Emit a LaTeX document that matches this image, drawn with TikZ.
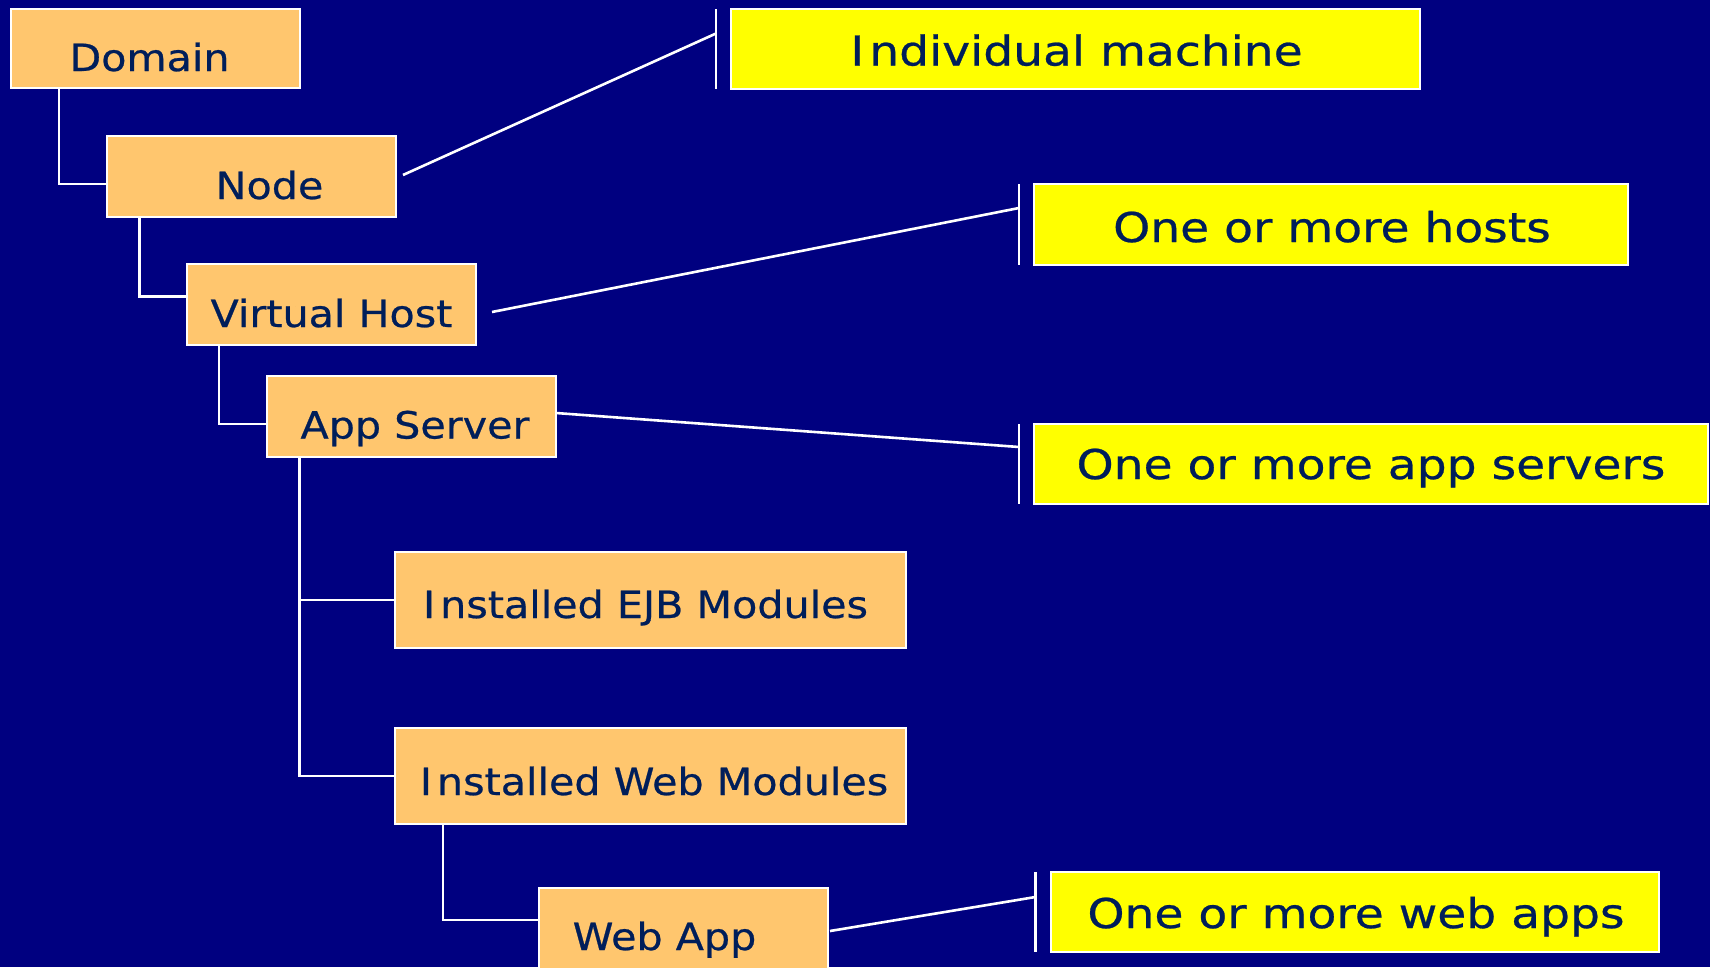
\documentclass[tikz,border=0pt]{standalone}
\usepackage{fontspec}
\newfontfamily\treefont[FakeStretch=1.1,FakeBold=0.6]{DejaVu Sans}
\newfontfamily\notefont[FakeStretch=1.15,FakeBold=0.6]{DejaVu Sans}
\definecolor{slidebg}{RGB}{0,0,128}
\definecolor{tanfill}{RGB}{255,198,110}
\definecolor{notefill}{RGB}{255,255,0}
\definecolor{inkblue}{RGB}{0,30,90}
% label placed at a horizontal offset (#1 = twice the shift) and a vertical drop (#2)
\newcommand\boxlabel[3]{\makebox[0pt]{\hspace*{#1}\raisebox{#2}{#3}}}

\begin{document}
\begin{tikzpicture}[x=1pt,y=-1pt,
  level/.style={draw=white, line width=2pt, fill=tanfill, text=inkblue,
    font=\treefont\fontsize{37.5}{40}\selectfont, anchor=north west,
    inner sep=0pt, outer sep=0pt, text height=0pt, text depth=0pt,
    minimum width=289pt, minimum height=80pt},
  note/.style={draw=white, line width=2pt, fill=notefill, text=inkblue,
    font=\notefont\fontsize{41}{44}\selectfont, anchor=north west,
    inner sep=0pt, outer sep=0pt, text height=0pt, text depth=0pt,
    minimum height=80pt},
  branch/.style={draw=white, line width=2.2pt},
  pointer/.style={draw=white, line width=2.6pt},
  bracket/.style={draw=white, line width=2.2pt}]

\fill[slidebg] (0,0) rectangle (1710,967);
\useasboundingbox (0,0) rectangle (1710,967);

% hierarchy boxes
\node[level, minimum height=79pt] (domain) at (11,9) {\boxlabel{-12pt}{-22.5pt}{Domain}};
\node[level, minimum height=81pt] (nodebox) at (107,136) {\boxlabel{36pt}{-22.5pt}{Node}};
\node[level, minimum height=81pt] (vhost) at (187,264) {\boxlabel{0pt}{-22.5pt}{Virtual Host}};
\node[level, minimum height=81pt] (appsrv) at (267,376) {\boxlabel{7pt}{-22pt}{App Server}};
\node[level, minimum width=511pt, minimum height=96pt] (ejb) at (395,552) {\boxlabel{-10pt}{-18pt}{I\kern5pt{}nstalled EJB Modules}};
\node[level, minimum width=511pt, minimum height=96pt] (webmods) at (395,728) {\boxlabel{7pt}{-19pt}{I\kern5pt{}nstalled Web Modules}};
\node[level, minimum height=81pt] (webapp) at (539,888) {\boxlabel{-38pt}{-21.5pt}{Web App}};

% notes
\node[note, minimum width=689pt] (machine) at (731,9) {\boxlabel{2pt}{-16.5pt}{I\kern5pt{}ndividual machine}};
\node[note, minimum width=594pt, minimum height=81pt] (hosts) at (1034,184) {\boxlabel{2pt}{-17.5pt}{One or more hosts}};
\node[note, minimum width=674pt] (servers) at (1034,424) {\boxlabel{0pt}{-15pt}{One or more app servers}};
\node[note, minimum width=608pt] (apps) at (1051,872) {\boxlabel{2pt}{-16pt}{One or more web apps}};

% brackets beside the notes
\draw[bracket] ([xshift=-15pt]machine.north west) -- ([xshift=-15pt]machine.south west);
\draw[bracket] ([xshift=-15pt]hosts.north west) -- ([xshift=-15pt]hosts.south west);
\draw[bracket] ([xshift=-15pt]servers.north west) -- ([xshift=-15pt]servers.south west);
\draw[bracket] ([xshift=-15.5pt]apps.north west) -- ([xshift=-15.5pt]apps.south west);

% tree branches
\draw[branch] ([xshift=48pt]domain.south west) |- ([yshift=-7.5pt]nodebox.west);
\draw[branch] ([xshift=32.5pt]nodebox.south west) |- ([yshift=8pt]vhost.west);
\draw[branch] ([xshift=32pt]vhost.south west) |- ([yshift=-7.5pt]appsrv.west);
\draw[branch] ([xshift=32.5pt]appsrv.south west) |- (ejb.west);
\draw[branch] ([xshift=32.5pt]appsrv.south west) |- (webmods.west);
\draw[branch] ([xshift=48pt]webmods.south west) |- ([yshift=8.5pt]webapp.west);

% pointers to the notes
\draw[pointer] ([xshift=7pt,yshift=1.5pt]nodebox.east) -- ([xshift=-15pt,yshift=15.5pt]machine.west);
\draw[pointer] ([xshift=16pt,yshift=-7.5pt]vhost.east) -- ([xshift=-15pt,yshift=16.5pt]hosts.west);
\draw[pointer] ([yshift=3.5pt]appsrv.east) -- ([xshift=-15pt,yshift=17pt]servers.west);
\draw[pointer] ([xshift=2pt,yshift=-2.5pt]webapp.east) -- ([xshift=-15.5pt,yshift=15pt]apps.west);
\end{tikzpicture}
\end{document}
